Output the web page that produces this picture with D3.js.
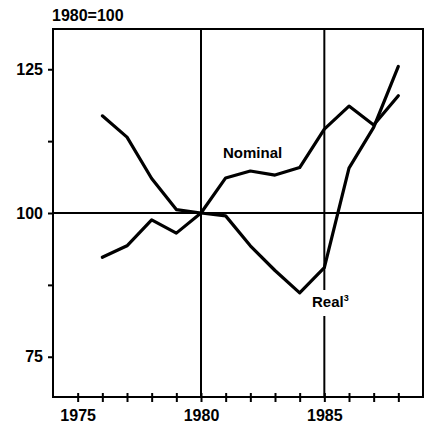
<!DOCTYPE html>
<html>
<head>
<meta charset="utf-8">
<script src="https://d3js.org/d3.v7.min.js"></script>
<style>
  html, body { margin: 0; padding: 0; background: #fff; }
  svg text { font-family: "Liberation Sans", Arial, sans-serif; font-weight: bold; fill: #000; }
</style>
</head>
<body>
<svg id="chart" width="424" height="426"></svg>
<script>
const years = [1976, 1977, 1978, 1979, 1980, 1981, 1982, 1983, 1984, 1985, 1986, 1987, 1988];
const nominal = [116.9, 113.2, 106.0, 100.6, 100.0, 106.1, 107.3, 106.6, 107.9, 114.6, 118.6, 115.3, 120.4];
const real = [92.3, 94.3, 98.8, 96.5, 100.0, 99.5, 94.3, 90.0, 86.1, 90.5, 107.8, 114.9, 125.5];
const xTicks = [1975, 1976, 1977, 1978, 1979, 1980, 1981, 1982, 1983, 1984, 1985, 1986, 1987, 1988];
const xLabels = [1975, 1980, 1985];
const yTicks = [75, 87.5, 100, 112.5, 125];
const yLabels = [75, 100, 125];
const refYears = [1980, 1985];
const baseValue = 100;

(function () {
const svg = d3.select("#chart");
const pL = 53, pR = 423, pT = 29, pB = 397;
const x = d3.scaleLinear().domain([1974, 1989]).range([pL, pR]);
const y = d3.scaleLinear().domain([68, 132]).range([pB, pT]);

// frame
svg.append("rect").attr("x", pL).attr("y", pT)
  .attr("width", pR - pL).attr("height", pB - pT)
  .attr("fill", "none").attr("stroke", "#000").attr("stroke-width", 2);

// x axis
const xa = svg.append("g").attr("transform", `translate(0,${pB})`)
  .call(d3.axisBottom(x).tickValues(xTicks).tickSizeInner(5).tickSizeOuter(0)
    .tickFormat(d => xLabels.includes(d) ? String(d) : ""));
xa.select(".domain").remove();
xa.selectAll(".tick line").attr("y1", -4).attr("y2", 5).attr("stroke", "#000").attr("stroke-width", 2);
xa.selectAll(".tick text").attr("y", 0).attr("dy", "24px").attr("font-size", 16).style("font-weight", "bold")
  .attr("font-family", "Liberation Sans, Arial, sans-serif");

// y axis
const ya = svg.append("g").attr("transform", `translate(${pL},0)`)
  .call(d3.axisLeft(y).tickValues(yTicks).tickSizeInner(5).tickSizeOuter(0)
    .tickFormat(d => yLabels.includes(d) ? String(d) : ""));
ya.select(".domain").remove();
ya.selectAll(".tick line").attr("stroke", "#000").attr("stroke-width", 2);
ya.selectAll(".tick text").attr("x", -10).attr("font-size", 16).style("font-weight", "bold")
  .attr("font-family", "Liberation Sans, Arial, sans-serif");

// reference lines
svg.append("line").attr("x1", pL).attr("x2", pR).attr("y1", y(baseValue)).attr("y2", y(baseValue))
  .attr("stroke", "#000").attr("stroke-width", 2);
svg.append("line").attr("x1", x(refYears[0])).attr("x2", x(refYears[0])).attr("y1", pT).attr("y2", pB)
  .attr("stroke", "#000").attr("stroke-width", 2);
svg.append("line").attr("x1", x(refYears[1])).attr("x2", x(refYears[1])).attr("y1", pT).attr("y2", 290)
  .attr("stroke", "#000").attr("stroke-width", 2);
svg.append("line").attr("x1", x(refYears[1])).attr("x2", x(refYears[1])).attr("y1", 316).attr("y2", pB)
  .attr("stroke", "#000").attr("stroke-width", 2);

// series
const line = d3.line().x(d => x(d[0])).y(d => y(d[1]));
[nominal, real].forEach(vals => {
  svg.append("path").datum(years.map((yr, i) => [yr, vals[i]]))
    .attr("d", line).attr("fill", "none").attr("stroke", "#000")
    .attr("stroke-width", 3.2).attr("stroke-linejoin", "round").attr("stroke-linecap", "round");
});

// texts
svg.append("text").attr("x", 52).attr("y", 21).attr("font-size", 16).text("1980=100");
svg.append("text").attr("x", 223).attr("y", 158).attr("font-size", 15).text("Nominal");
const rt = svg.append("text").attr("x", 312).attr("y", 307).attr("font-size", 15);
rt.append("tspan").text("Real");
rt.append("tspan").attr("font-size", 9).attr("dy", -6).text("3");
})();
</script>
</body>
</html>
